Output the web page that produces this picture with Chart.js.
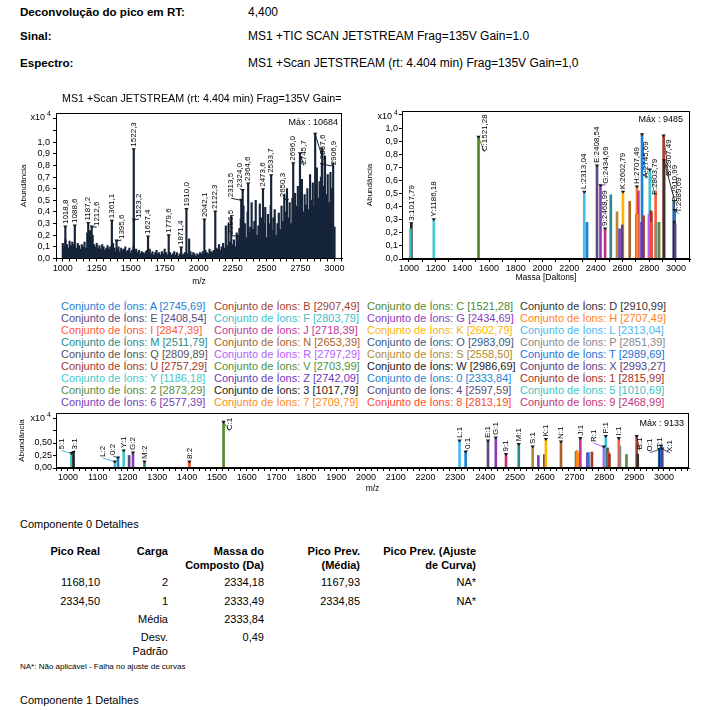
<!DOCTYPE html>
<html lang="pt">
<head>
<meta charset="utf-8">
<title>Deconvolução do pico em RT 4,400</title>
<script src="https://cdn.jsdelivr.net/npm/chart.js@4.4.0/dist/chart.umd.min.js"></script>
<style>
  html, body { margin: 0; padding: 0; background: #fff; }
  body {
    width: 714px; height: 710px; position: relative; overflow: hidden;
    font-family: "Liberation Sans", Arial, sans-serif; color: #000;
  }
  .abs { position: absolute; white-space: nowrap; line-height: 14px; }
  .key { left: 20px; font-size: 11.6px; font-weight: bold; }
  .val { left: 248px; font-size: 12px; }
  .txt { font-size: 11px; }
  .th { font-size: 11px; font-weight: bold; text-align: right; }
  .td { font-size: 11px; text-align: right; }
  .c1 { right: 614px; } .c2 { right: 546px; } .c3 { right: 450px; }
  .c4 { right: 354px; } .c5 { right: 238px; }
  canvas { position: absolute; }
  #chartLeft { left: 0; top: 88px; }
  #chartRight { left: 360px; top: 88px; }
  #chartBottom { left: 0; top: 400px; }
  #legend {
    position: absolute; left: 61px; top: 300px;
    display: grid; grid-template-columns: repeat(4, 153px);
    font-size: 11px; line-height: 12px; white-space: nowrap;
  }
</style>
</head>
<body>

<div class="abs key" style="top:5px">Deconvolução do pico em RT:</div>
<div class="abs val" style="top:5px">4,400</div>
<div class="abs key" style="top:29px">Sinal:</div>
<div class="abs val" style="top:29px">MS1 +TIC SCAN JETSTREAM Frag=135V Gain=1.0</div>
<div class="abs key" style="top:56px">Espectro:</div>
<div class="abs val" style="top:56px">MS1 +Scan JETSTREAM (rt: 4.404 min) Frag=135V Gain=1,0</div>

<canvas id="chartLeft" width="360" height="200"></canvas>
<canvas id="chartRight" width="354" height="200"></canvas>
<div id="legend"></div>
<canvas id="chartBottom" width="714" height="100"></canvas>

<div class="abs txt" style="left:20px; top:517px">Componente 0 Detalhes</div>
<div class="abs th c1" style="top:544px">Pico Real</div>
<div class="abs th c2" style="top:544px">Carga</div>
<div class="abs th c3" style="top:544px">Massa do<br>Composto (Da)</div>
<div class="abs th c4" style="top:544px">Pico Prev.<br>(Média)</div>
<div class="abs th c5" style="top:544px">Pico Prev. (Ajuste<br>de Curva)</div>
<div class="abs td c1" style="top:575px">1168,10</div>
<div class="abs td c2" style="top:575px">2</div>
<div class="abs td c3" style="top:575px">2334,18</div>
<div class="abs td c4" style="top:575px">1167,93</div>
<div class="abs td c5" style="top:575px">NA*</div>
<div class="abs td c1" style="top:594px">2334,50</div>
<div class="abs td c2" style="top:594px">1</div>
<div class="abs td c3" style="top:594px">2333,49</div>
<div class="abs td c4" style="top:594px">2334,85</div>
<div class="abs td c5" style="top:594px">NA*</div>
<div class="abs td c2" style="top:612px">Média</div>
<div class="abs td c3" style="top:612px">2333,84</div>
<div class="abs td c2" style="top:630px">Desv.<br>Padrão</div>
<div class="abs td c3" style="top:630px">0,49</div>
<div class="abs" style="left:20px; top:662px; font-size:8px; line-height:10px">NA*: Não aplicável - Falha no ajuste de curvas</div>
<div class="abs txt" style="left:20px; top:693px">Componente 1 Detalhes</div>

<script>
'use strict';

/** @desc Left spectrum: first m/z and spacing of the profile samples */
const PROFILE_FIRST_MZ = 1000;
const PROFILE_STEP_MZ = 10;

/** @desc Left spectrum: profile abundance (x10^4), one value every 10 m/z */
const PROFILE_ABUND = [
  0.13, 0.10, 0.16, 0.12, 0.09, 0.15, 0.11, 0.14, 0.12, 0.10,
  0.09, 0.13, 0.11, 0.08, 0.12, 0.10, 0.14, 0.09, 0.22, 0.18,
  0.24, 0.15, 0.20, 0.12, 0.10, 0.13, 0.09, 0.11, 0.08, 0.12,
  0.10, 0.07, 0.09, 0.11, 0.08, 0.10, 0.07, 0.13, 0.09, 0.06,
  0.08, 0.10, 0.06, 0.09, 0.07, 0.08, 0.10, 0.06, 0.07, 0.09,
  0.05, 0.07, 0.10, 0.06, 0.08, 0.05, 0.07, 0.04, 0.06, 0.05,
  0.04, 0.06, 0.07, 0.05, 0.08, 0.04, 0.06, 0.03, 0.05, 0.07,
  0.04, 0.05, 0.03, 0.06, 0.04, 0.08, 0.05, 0.03, 0.04, 0.05,
  0.03, 0.04, 0.06, 0.03, 0.05, 0.02, 0.04, 0.06, 0.03, 0.04,
  0.05, 0.03, 0.04, 0.17, 0.06, 0.03, 0.05, 0.04, 0.02, 0.04,
  0.03, 0.05, 0.04, 0.06, 0.03, 0.07, 0.05, 0.04, 0.08, 0.06,
  0.05, 0.07, 0.06, 0.09, 0.08, 0.12, 0.07, 0.10, 0.13, 0.09,
  0.28, 0.11, 0.30, 0.14, 0.37, 0.12, 0.16, 0.10, 0.22, 0.15,
  0.26, 0.34, 0.20, 0.45, 0.30, 0.18, 0.40, 0.22, 0.27, 0.48,
  0.25, 0.32, 0.50, 0.20, 0.28, 0.47, 0.35, 0.22, 0.30, 0.44,
  0.18, 0.38, 0.30, 0.46, 0.24, 0.35, 0.42, 0.20, 0.30, 0.39,
  0.25, 0.45, 0.32, 0.55, 0.40, 0.60, 0.35, 0.48, 0.30, 0.52,
  0.38, 0.56, 0.45, 0.62, 0.42, 0.50, 0.68, 0.40, 0.55, 0.46,
  0.60, 0.42, 0.72, 0.50, 0.65, 0.45, 0.58, 0.78, 0.52, 0.66,
  0.70, 0.95, 0.62, 0.88, 0.55, 0.72, 0.48, 0.74, 0.60, 0.82,
  0.27
];

/** @desc Left spectrum: labelled peaks, m/z */
const PEAK_MZ = [
  1018.8, 1088.6, 1187.2, 1212.6, 1361.1, 1395.6, 1522.3, 1523.2, 1627.4,
  1779.6, 1871.4, 1910.0, 2042.1, 2122.3, 2286.5, 2313.5, 2324.0, 2364.6,
  2473.6, 2533.7, 2650.3, 2696.0, 2745.7, 2857.6, 2906.9
];
/** @desc Left spectrum: labelled peaks, abundance (x10^4) */
const PEAK_ABUND = [
  0.27, 0.28, 0.30, 0.27, 0.32, 0.15, 0.935, 0.33, 0.185,
  0.195, 0.09, 0.42, 0.33, 0.40, 0.19, 0.50, 0.585, 0.64,
  0.59, 0.71, 0.50, 0.815, 0.90, 1.0684, 0.81
];

/** @desc Ion sets: names and deconvoluted masses (Da) */
const ION_NAMES = [
  'A', 'B', 'C', 'D', 'E', 'F', 'G', 'H', 'I', 'J', 'K', 'L',
  'M', 'N', 'O', 'P', 'Q', 'R', 'S', 'T', 'U', 'V', 'W', 'X',
  'Y', 'Z', '0', '1', '2', '3', '4', '5', '6', '7', '8', '9'
];
const ION_MASSES = [
  2745.69, 2907.49, 1521.28, 2910.99, 2408.54, 2803.79, 2434.69, 2707.49, 2847.39, 2718.39, 2602.79, 2313.04,
  2511.79, 2653.39, 2983.09, 2851.39, 2809.89, 2797.29, 2558.50, 2989.69, 2757.29, 2703.99, 2986.69, 2993.27,
  1186.18, 2742.09, 2333.84, 2815.99, 2873.29, 1017.79, 2597.59, 1010.69, 2577.39, 2709.79, 2813.19, 2468.99
];
/** @desc Ion sets: deconvoluted abundance (x10^4) */
const ION_ABUND = [
  0.9485, 0.94, 0.93, 0.75, 0.71, 0.68, 0.56, 0.55, 0.52, 0.52, 0.51, 0.51,
  0.49, 0.44, 0.44, 0.28, 0.37, 0.34, 0.36, 0.37, 0.33, 0.34, 0.29, 0.27,
  0.30, 0.28, 0.28, 0.36, 0.28, 0.27, 0.26, 0.23, 0.23, 0.34, 0.28, 0.23
];
/** @desc Ion sets labelled in the deconvoluted spectrum */
const MASS_LABELLED = ['3', 'Y', 'C', 'L', 'E', 'G', '9', 'K', 'H', 'A', 'F', 'B', 'D', 'T'];

/** @desc Bottom spectrum: charge state peaks (ion set, charge, m/z, abundance x10^4) */
const CS_ION = [
  '5', '3', 'L', '0', 'Y', 'E', 'G', 'M', '8', 'C', 'L', '0', 'E', 'G',
  '9', 'M', 'S', '6', '4', 'K', 'N', 'V', 'H', '7', 'J', 'Z', 'A', 'U',
  'R', 'F', 'Q', '8', '1', 'I', 'P', '2', 'B', 'D', 'O', 'W', 'T', 'X'
];
const CS_CHARGE = [
  1, 1, 2, 2, 1, 2, 2, 2, 2, 1, 1, 1, 1, 1,
  1, 1, 1, 1, 1, 1, 1, 1, 1, 1, 1, 1, 1, 1,
  1, 1, 1, 1, 1, 1, 1, 1, 1, 1, 1, 1, 1, 1
];
const CS_MZ = [
  1011.70, 1018.80, 1157.53, 1168.10, 1187.19, 1205.28, 1218.35, 1256.90, 1407.60, 1522.29, 2314.05, 2334.50, 2409.55, 2435.70,
  2470.00, 2512.80, 2559.51, 2578.40, 2598.60, 2603.80, 2654.40, 2705.00, 2708.50, 2710.80, 2719.40, 2743.10, 2746.70, 2758.30,
  2798.30, 2804.80, 2810.90, 2814.20, 2817.00, 2848.40, 2852.40, 2874.30, 2908.50, 2912.00, 2984.10, 2987.70, 2990.70, 2994.28
];
const CS_ABUND = [
  0.29, 0.31, 0.12, 0.20, 0.34, 0.25, 0.30, 0.12, 0.12, 0.9133, 0.54, 0.32, 0.54, 0.60,
  0.27, 0.47, 0.42, 0.25, 0.27, 0.57, 0.52, 0.33, 0.35, 0.30, 0.59, 0.30, 0.31, 0.32,
  0.42, 0.63, 0.40, 0.32, 0.28, 0.59, 0.44, 0.27, 0.63, 0.28, 0.37, 0.40, 0.44, 0.38
];
/** @desc Charge state peaks that carry a label */
const CS_LABELLED = [
  '5:1', '3:1', 'L:2', '0:2', 'Y:1', 'G:2', 'M:2', '8:2', 'C:1', 'L:1', '0:1', 'E:1', 'G:1',
  '9:1', 'M:1', 'S:1', 'K:1', 'N:1', 'J:1', 'R:1', 'F:1', 'I:1', 'B:1', 'O:1', 'T:1', 'X:1'
];

/** @desc Maxima printed in the plots */
const MAX_LEFT = 10684;
const MAX_RIGHT = 9485;
const MAX_BOTTOM = 9133;


/** @desc Styles */
const FONT_FAMILY = '"Liberation Sans", Arial, sans-serif';
const PROFILE_COLOR = '#16243a';
const ION_COLORS = [
  '#1f7fd8', '#a5402e', '#4f8a2f', '#333333', '#5b4b7d', '#3fc0c9', '#8a3bc0', '#ff7f1e', '#ff5a3c', '#c2399b', '#ffb400', '#4bb9f0',
  '#2a8a8f', '#a8622a', '#3a5a8a', '#8a8a8a', '#555555', '#b560ff', '#b38a33', '#1a72d6', '#a33a2a', '#4f8f3a', '#222222', '#5a4080',
  '#46c9c9', '#6a3ab8', '#1f82d2', '#a3321f', '#5a8a3a', '#222222', '#5a4a7a', '#42c4c4', '#7a40b8', '#ff8c1a', '#ff4a2a', '#c0347a'
];

/** @desc Label offsets [dx, dy] in pixels for labels moved off their peak */
const LEFT_NUDGE = {
  '1212,6': [5, 2], '1395,6': [5, 1], '1523,2': [5, 1], '2286,5': [-7, 1],
  '2313,5': [-10, 0], '2324,0': [-3, 0], '2650,3': [-4, 0], '2745,7': [4, 14],
  '2857,6': [8, 28], '2906,9': [12, 4]
};
const RIGHT_NUDGE = {
  'C:1521,28': [6, 17], 'G:2434,69': [5, 1], 'A:2745,69': [4, 46], 'F:2803,79': [5, 28],
  'B:2907,49': [5, 43], 'D:2910,99': [11, 44], 'T:2989,69': [4, 5]
};
const BOTTOM_NUDGE = {
  '5:1': [-10, -1], '3:1': [1, 0], 'L:2': [-12, -2], '0:2': [-5, 0], 'C:1': [6, 11],
  '0:1': [2, 0], 'R:1': [-10, -2], 'B:1': [3, 16], 'O:1': [-9, 5], 'T:1': [-1, 5], 'X:1': [8, 6]
};

/** @desc Decimal comma formatting */
const comma = (value, digits) => value.toFixed(digits).replace('.', ',');


/** @desc Draws the rotated peak labels, their markers and leader lines */
const PEAK_LABEL_PLUGIN = {
  id: 'peakLabels',
  afterDatasetsDraw(chart, args, opts) {
    const ctx = chart.ctx;
    const nudges = opts.nudges || {};
    chart.data.datasets.forEach((dataset, datasetIndex) => {
      if (!dataset.peakLabels) {
        return;
      }
      const meta = chart.getDatasetMeta(datasetIndex);
      meta.data.forEach((bar, i) => {
        const text = dataset.peakLabels[i];
        if (!text) {
          return;
        }
        const color = Array.isArray(dataset.backgroundColor) ?
          dataset.backgroundColor[i] : dataset.backgroundColor;
        const [dx, dy] = nudges[text] || [0, 0];
        const tx = bar.x + dx;
        const ty = bar.y - 3 + dy;
        ctx.save();
        if (dx || dy) {
          ctx.strokeStyle = color;
          ctx.lineWidth = 1;
          ctx.beginPath();
          ctx.moveTo(bar.x, bar.y);
          ctx.lineTo(tx, ty + 1);
          ctx.stroke();
        }
        ctx.fillStyle = '#1a1a1a';
        ctx.beginPath();
        ctx.moveTo(bar.x - 2.2, bar.y - 1.5);
        ctx.lineTo(bar.x + 2.2, bar.y - 1.5);
        ctx.lineTo(bar.x, bar.y + 1.5);
        ctx.closePath();
        ctx.fill();
        ctx.translate(tx, ty);
        ctx.rotate(-Math.PI / 2);
        ctx.font = '8px ' + FONT_FAMILY;
        ctx.fillStyle = '#000';
        ctx.textAlign = 'left';
        ctx.textBaseline = 'middle';
        ctx.fillText(text, 0, 0);
        ctx.restore();
      });
    });
  }
};

/** @desc Draws the frame, the title, the x10^4 factor and the maximum */
const DECOR_PLUGIN = {
  id: 'decor',
  afterDraw(chart, args, opts) {
    const {ctx, chartArea: area} = chart;
    ctx.save();
    ctx.strokeStyle = '#000';
    ctx.lineWidth = 1;
    ctx.strokeRect(Math.round(area.left) + 0.5, Math.round(area.top) + 0.5,
      Math.round(area.right - area.left) - 1, Math.round(area.bottom - area.top) - 1);
    ctx.fillStyle = '#000';
    ctx.textBaseline = 'middle';
    ctx.font = '9px ' + FONT_FAMILY;
    ctx.textAlign = 'right';
    ctx.fillText('Máx : ' + opts.max, area.right - opts.maxInset, area.top + opts.maxDrop);
    ctx.fillText('x10', area.left - opts.expGap, area.top + opts.expDrop);
    ctx.font = '7px ' + FONT_FAMILY;
    ctx.textAlign = 'left';
    ctx.fillText('4', area.left - opts.expGap + 2, area.top + opts.expDrop - 4);
    if (opts.title) {
      ctx.font = '10.7px ' + FONT_FAMILY;
      ctx.fillText(opts.title, area.left + 6, opts.titleY);
    }
    ctx.restore();
  }
};

/** @desc Builds a horizontal m/z or mass axis */
function xAxis(min, max, step, labelStep, title, height, tickPad, titlePad) {
  return {
    type: 'linear', min: min, max: max, offset: false,
    border: {color: '#000', width: 1},
    grid: {drawOnChartArea: false, offset: false, color: '#000', tickLength: 3},
    ticks: {
      stepSize: step, includeBounds: false, autoSkip: false, maxRotation: 0,
      padding: tickPad, color: '#000', font: {size: 9},
      callback: (value) => (Math.round(value) % labelStep === 0 ? String(Math.round(value)) : '')
    },
    title: {display: true, text: title, color: '#000', font: {size: 8.5},
      padding: {top: 0, bottom: titlePad}},
    afterFit: (scale) => { scale.height = height; }
  };
}

/** @desc Builds a vertical abundance axis */
function yAxis(max, step, labelMax, digits, width, tickPad, titlePad) {
  return {
    min: 0, max: max,
    border: {color: '#000', width: 1},
    grid: {drawOnChartArea: false, color: '#000', tickLength: 3},
    ticks: {
      stepSize: step, includeBounds: false, autoSkip: false,
      padding: tickPad, color: '#000', font: {size: 9},
      callback: (value) => (value <= labelMax + 1e-6 ? comma(value, digits) : '')
    },
    title: {display: true, text: 'Abundância', color: '#000', font: {size: 8},
      padding: {top: titlePad, bottom: 0}},
    afterFit: (scale) => { scale.width = width; }
  };
}

/** @desc Options shared by the three plots */
function baseOptions(padding, scales, decor, nudges) {
  return {
    responsive: false,
    animation: false,
    events: [],
    layout: {padding: padding},
    scales: scales,
    plugins: {
      legend: {display: false},
      tooltip: {enabled: false},
      decor: decor,
      peakLabels: {nudges: nudges}
    }
  };
}

Chart.defaults.font.family = FONT_FAMILY;
Chart.defaults.color = '#000';

/** @desc Left plot: MS1 spectrum */
const LEFT_CONFIG = {
  type: 'bar',
  data: {
    datasets: [{
      data: PROFILE_ABUND.map((v, i) => ({x: PROFILE_FIRST_MZ + i * PROFILE_STEP_MZ, y: v})),
      backgroundColor: PROFILE_COLOR,
      barThickness: 1.5, borderWidth: 0, grouped: false
    }, {
      data: PEAK_MZ.map((mz, i) => ({x: mz, y: PEAK_ABUND[i]})),
      backgroundColor: PROFILE_COLOR,
      barThickness: 1.5, borderWidth: 0, grouped: false,
      peakLabels: PEAK_MZ.map((mz) => comma(mz, 1))
    }]
  },
  options: baseOptions({left: 0, top: 25, right: 18, bottom: 0}, {
    x: xAxis(950, 3055, 50, 250, 'm/z', 29.5, 2, 1),
    y: yAxis(1.25, 0.1, 1.0, 1, 56, 3, 19)
  }, {
    title: 'MS1 +Scan JETSTREAM (rt: 4.404 min) Frag=135V Gain=',
    titleY: 11, max: MAX_LEFT, maxInset: 4, maxDrop: 10, expGap: 11, expDrop: 5
  }, LEFT_NUDGE),
  plugins: [PEAK_LABEL_PLUGIN, DECOR_PLUGIN]
};

/** @desc Right plot: deconvoluted masses */
const RIGHT_CONFIG = {
  type: 'bar',
  data: {
    datasets: [{
      data: ION_MASSES.map((m, i) => ({x: m, y: ION_ABUND[i]})),
      backgroundColor: ION_COLORS,
      barThickness: 2, borderWidth: 0, grouped: false,
      peakLabels: ION_NAMES.map((n, i) =>
        (MASS_LABELLED.includes(n) ? n + ':' + comma(ION_MASSES[i], 2) : null))
    }]
  },
  options: baseOptions({left: 0, top: 23, right: 24, bottom: 0}, {
    x: xAxis(948, 3105, 100, 200, 'Massa [Daltons]', 29, 1, 5),
    y: yAxis(1.13, 0.1, 1.0, 1, 42, 1, 5)
  }, {max: MAX_RIGHT, maxInset: 7, maxDrop: 9, expGap: 10, expDrop: 6}, RIGHT_NUDGE),
  plugins: [PEAK_LABEL_PLUGIN, DECOR_PLUGIN]
};

/** @desc Bottom plot: charge state peaks of every ion set */
const BOTTOM_CONFIG = {
  type: 'bar',
  data: {
    datasets: [{
      data: CS_MZ.map((mz, i) => ({x: mz, y: CS_ABUND[i]})),
      backgroundColor: CS_ION.map((ion) => ION_COLORS[ION_NAMES.indexOf(ion)]),
      barThickness: 2, borderWidth: 0, grouped: false,
      peakLabels: CS_ION.map((ion, i) => {
        const text = ion + ':' + CS_CHARGE[i];
        return CS_LABELLED.includes(text) ? text : null;
      })
    }]
  },
  options: baseOptions({left: 0, top: 13, right: 25, bottom: 0}, {
    x: xAxis(960, 3084, 20, 100, 'm/z', 32, 1, 6),
    y: yAxis(1.1, 0.25, 0.5, 2, 56, 1, 17)
  }, {max: MAX_BOTTOM, maxInset: 5, maxDrop: 11, expGap: 11, expDrop: 6}, BOTTOM_NUDGE),
  plugins: [PEAK_LABEL_PLUGIN, DECOR_PLUGIN]
};

/** @desc Legend of the ion sets */
const LEGEND = document.getElementById('legend');
ION_NAMES.forEach((name, i) => {
  const cell = document.createElement('div');
  cell.style.color = ION_COLORS[i];
  cell.textContent = 'Conjunto de Íons: ' + name + ' [' + comma(ION_MASSES[i], 2) + ']';
  LEGEND.appendChild(cell);
});

new Chart(document.getElementById('chartLeft'), LEFT_CONFIG);
new Chart(document.getElementById('chartRight'), RIGHT_CONFIG);
new Chart(document.getElementById('chartBottom'), BOTTOM_CONFIG);
</script>
</body>
</html>
